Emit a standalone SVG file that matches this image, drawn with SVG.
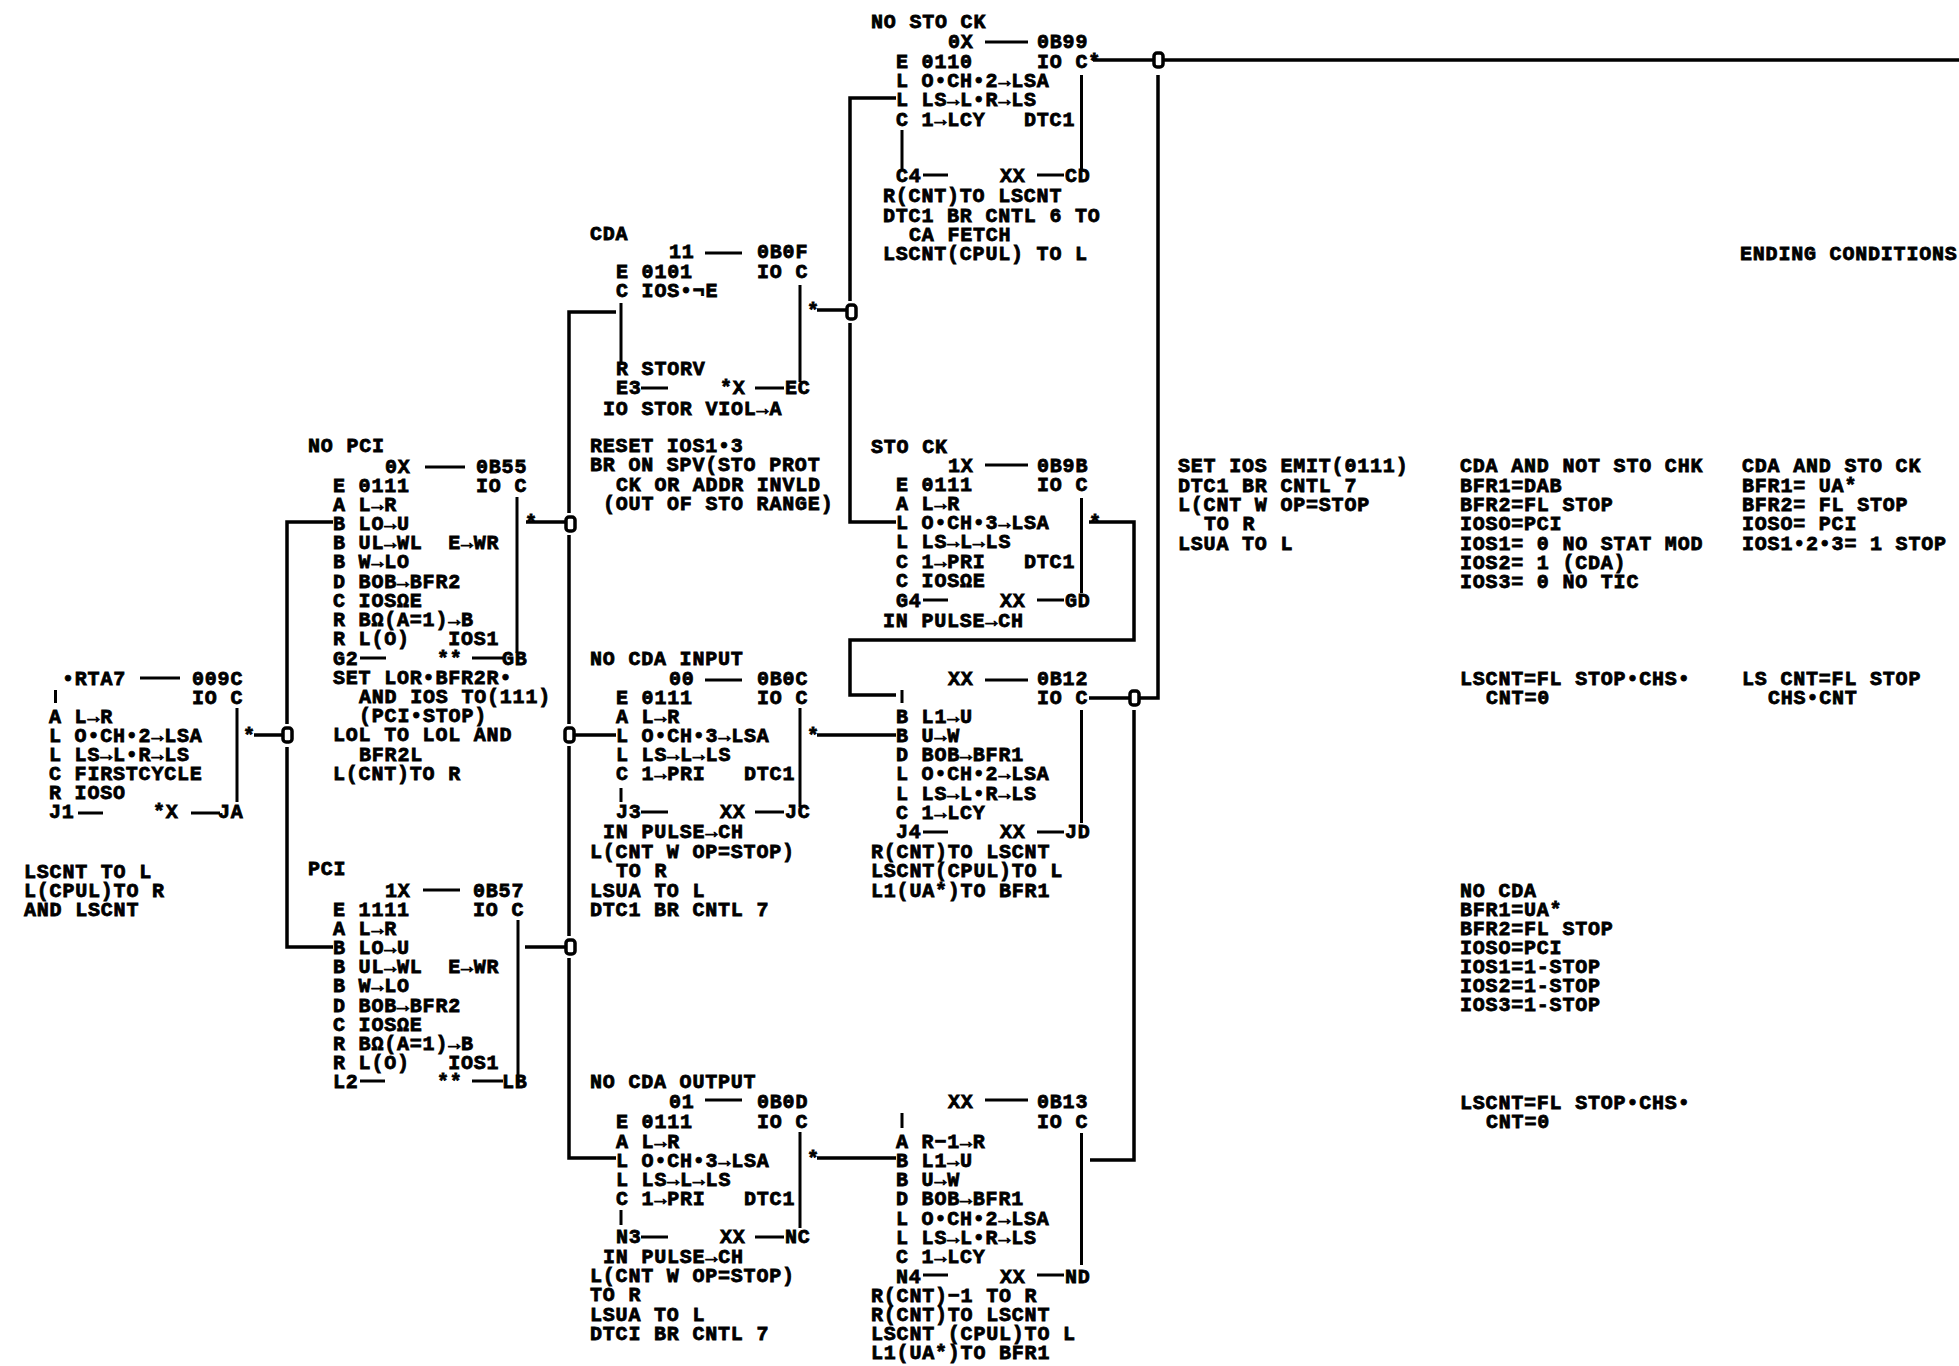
<svg xmlns="http://www.w3.org/2000/svg" width="1959" height="1366" viewBox="0 0 1959 1366">
<style>
text{font-family:"Liberation Mono","DejaVu Sans Mono",monospace;font-weight:700;font-size:20px;letter-spacing:.8px;fill:#000;stroke:#000;stroke-width:.8px;white-space:pre}
path{fill:none;stroke:#000;stroke-width:3px}
.c path{stroke-width:3.5px}
rect{fill:#fff;stroke:#000;stroke-width:3.5px}
</style>
<rect x="-5" y="-5" width="1969" height="1376" style="fill:#fff;stroke:none"/>
<g id="connectors" class="c">
<path d="M254 735H283M287 724V522H333M287 747V947H333M526 522H566M569 513V312H616M569 535V724M569 746V936M569 958V1158H616M574 735H616M525 947H566M817 310H846M850 301V98H896M850 323V522H896M817 735H896M817 1158H896M1093 60H1959M1158 75V698H1139M1089 698H1130M1089 522H1134V640H850V695H896M1134 710V1160H1090"/>
<rect x="283" y="728" width="9" height="14" rx="3"/>
<rect x="566" y="517" width="9" height="14" rx="3"/>
<rect x="565" y="728" width="9" height="14" rx="3"/>
<rect x="566" y="940" width="9" height="14" rx="3"/>
<rect x="847" y="305" width="9" height="14" rx="3"/>
<rect x="1154" y="53" width="9" height="14" rx="3"/>
<rect x="1130" y="691" width="9" height="14" rx="3"/>
</g>
<g id="rta7">
<path d="M55.5 690V703M237 708V802M140 678H180M78 813H103M191 813H220"/>
<text x="62" y="685">•RTA7</text><text x="192" y="685">009C</text><text x="192" y="704">IO C</text>
<text x="49" y="723">A L→R</text><text x="49" y="742">L O•CH•2→LSA</text><text x="49" y="761">L LS→L•R→LS</text><text x="49" y="780">C FIRSTCYCLE</text><text x="49" y="799">R IOSO</text>
<text x="49" y="818">J1</text><text x="153" y="818">*X</text><text x="218" y="818">JA</text>
<text x="243" y="742">*</text>
</g>
<g id="note-lscnt">
<text x="24" y="878">LSCNT TO L</text><text x="24" y="897">L(CPUL)TO R</text><text x="24" y="916">AND LSCNT</text>
</g>
<g id="no-pci">
<path d="M517 497V653M425 467H465M360 658H386M472 658H503"/>
<text x="308" y="452">NO PCI</text><text x="385" y="473">0X</text><text x="476" y="473">0B55</text>
<text x="333" y="492">E 0111</text><text x="476" y="492">IO C</text>
<text x="333" y="511">A L→R</text><text x="333" y="530">B LO→U</text><text x="333" y="549">B UL→WL  E→WR</text><text x="333" y="568">B W→LO</text><text x="333" y="588">D BOB→BFR2</text><text x="333" y="607">C IOSΩE</text><text x="333" y="626">R BΩ(A=1)→B</text><text x="333" y="645">R L(O)   IOS1</text>
<text x="333" y="665">G2</text><text x="437" y="665">**</text><text x="502" y="665">GB</text>
<text x="333" y="684">SET LOR•BFR2R•</text><text x="359" y="703">AND IOS TO(111)</text><text x="359" y="722">(PCI•STOP)</text><text x="333" y="741">LOL TO LOL AND</text><text x="359" y="761">BFR2L</text><text x="333" y="780">L(CNT)TO R</text>
<text x="525" y="529">*</text>
</g>
<g id="pci">
<path d="M518 920V1085M423 890H460M360 1081H385M472 1081H503"/>
<text x="308" y="875">PCI</text><text x="385" y="897">1X</text><text x="473" y="897">0B57</text>
<text x="333" y="916">E 1111</text><text x="473" y="916">IO C</text>
<text x="333" y="935">A L→R</text><text x="333" y="954">B LO→U</text><text x="333" y="973">B UL→WL  E→WR</text><text x="333" y="992">B W→LO</text><text x="333" y="1012">D BOB→BFR2</text><text x="333" y="1031">C IOSΩE</text><text x="333" y="1050">R BΩ(A=1)→B</text><text x="333" y="1069">R L(O)   IOS1</text>
<text x="333" y="1088">L2</text><text x="437" y="1088">**</text><text x="502" y="1088">LB</text>
</g>
<g id="cda">
<path d="M621 303V365M800 285V382M705 253H742M641 388H668M755 388H784"/>
<text x="590" y="240">CDA</text><text x="669" y="258">11</text><text x="757" y="258">0B0F</text>
<text x="616" y="278">E 0101</text><text x="757" y="278">IO C</text><text x="616" y="297">C IOS•¬E</text>
<text x="616" y="375">R STORV</text><text x="616" y="394">E3</text><text x="720" y="394">*X</text><text x="785" y="394">EC</text>
<text x="603" y="415">IO STOR VIOL→A</text>
<text x="807" y="317">*</text>
<text x="590" y="452">RESET IOS1•3</text><text x="590" y="471">BR ON SPV(STO PROT</text><text x="616" y="491">CK OR ADDR INVLD</text><text x="603" y="510">(OUT OF STO RANGE)</text>
</g>
<g id="no-cda-input">
<path d="M621 788V802M800 708V807M705 680H742M641 812H668M755 812H784"/>
<text x="590" y="665">NO CDA INPUT</text><text x="669" y="685">00</text><text x="757" y="685">0B0C</text>
<text x="616" y="704">E 0111</text><text x="757" y="704">IO C</text>
<text x="616" y="723">A L→R</text><text x="616" y="742">L O•CH•3→LSA</text><text x="616" y="761">L LS→L→LS</text><text x="616" y="780">C 1→PRI   DTC1</text>
<text x="616" y="818">J3</text><text x="720" y="818">XX</text><text x="785" y="818">JC</text>
<text x="603" y="838">IN PULSE→CH</text><text x="590" y="858">L(CNT W OP=STOP)</text><text x="616" y="877">TO R</text><text x="590" y="897">LSUA TO L</text><text x="590" y="916">DTC1 BR CNTL 7</text>
<text x="807" y="742">*</text>
</g>
<g id="no-cda-output">
<path d="M621 1210V1225M800 1132V1228M705 1100H742M641 1237H668M755 1237H784"/>
<text x="590" y="1088">NO CDA OUTPUT</text><text x="669" y="1108">01</text><text x="757" y="1108">0B0D</text>
<text x="616" y="1128">E 0111</text><text x="757" y="1128">IO C</text>
<text x="616" y="1148">A L→R</text><text x="616" y="1167">L O•CH•3→LSA</text><text x="616" y="1186">L LS→L→LS</text><text x="616" y="1205">C 1→PRI   DTC1</text>
<text x="616" y="1243">N3</text><text x="720" y="1243">XX</text><text x="785" y="1243">NC</text>
<text x="603" y="1263">IN PULSE→CH</text><text x="590" y="1282">L(CNT W OP=STOP)</text><text x="590" y="1301">TO R</text><text x="590" y="1321">LSUA TO L</text><text x="590" y="1340">DTCI BR CNTL 7</text>
<text x="807" y="1165">*</text>
</g>
<g id="no-sto-ck">
<path d="M902 130V170M1081.5 75V170M985 42H1028M923 175H948M1037 175H1064"/>
<text x="871" y="28">NO STO CK</text><text x="948" y="48">0X</text><text x="1037" y="48">0B99</text>
<text x="896" y="68">E 0110</text><text x="1037" y="68">IO C*</text>
<text x="896" y="87">L O•CH•2→LSA</text><text x="896" y="106">L LS→L•R→LS</text><text x="896" y="126">C 1→LCY   DTC1</text>
<text x="896" y="182">C4</text><text x="1000" y="182">XX</text><text x="1065" y="182">CD</text>
<text x="883" y="202">R(CNT)TO LSCNT</text><text x="883" y="222">DTC1 BR CNTL 6 TO</text><text x="909" y="241">CA FETCH</text><text x="883" y="260">LSCNT(CPUL) TO L</text>
</g>
<g id="sto-ck">
<path d="M1081.5 498V593M985 465H1028M923 600H948M1037 600H1064"/>
<text x="871" y="453">STO CK</text><text x="948" y="472">1X</text><text x="1037" y="472">0B9B</text>
<text x="896" y="491">E 0111</text><text x="1037" y="491">IO C</text>
<text x="896" y="510">A L→R</text><text x="896" y="529">L O•CH•3→LSA</text><text x="896" y="548">L LS→L→LS</text><text x="896" y="568">C 1→PRI   DTC1</text><text x="896" y="587">C IOSΩE</text>
<text x="896" y="607">G4</text><text x="1000" y="607">XX</text><text x="1065" y="607">GD</text>
<text x="883" y="627">IN PULSE→CH</text>
<text x="1089" y="529">*</text>
</g>
<g id="ob12">
<path d="M902 690V703M1081.5 710V823M985 680H1028M923 832H948M1037 832H1064"/>
<text x="948" y="685">XX</text><text x="1037" y="685">0B12</text><text x="1037" y="704">IO C</text>
<text x="896" y="723">B L1→U</text><text x="896" y="742">B U→W</text><text x="896" y="761">D BOB→BFR1</text><text x="896" y="780">L O•CH•2→LSA</text><text x="896" y="800">L LS→L•R→LS</text><text x="896" y="819">C 1→LCY</text>
<text x="896" y="838">J4</text><text x="1000" y="838">XX</text><text x="1065" y="838">JD</text>
<text x="871" y="858">R(CNT)TO LSCNT</text><text x="871" y="877">LSCNT(CPUL)TO L</text><text x="871" y="897">L1(UA*)TO BFR1</text>
</g>
<g id="ob13">
<path d="M902 1113V1128M1081.5 1133V1265M985 1100H1028M923 1275H948M1037 1275H1064"/>
<text x="948" y="1108">XX</text><text x="1037" y="1108">0B13</text><text x="1037" y="1128">IO C</text>
<text x="896" y="1148">A R−1→R</text><text x="896" y="1167">B L1→U</text><text x="896" y="1186">B U→W</text><text x="896" y="1205">D BOB→BFR1</text><text x="896" y="1225">L O•CH•2→LSA</text><text x="896" y="1244">L LS→L•R→LS</text><text x="896" y="1263">C 1→LCY</text>
<text x="896" y="1283">N4</text><text x="1000" y="1283">XX</text><text x="1065" y="1283">ND</text>
<text x="871" y="1302">R(CNT)−1 TO R</text><text x="871" y="1321">R(CNT)TO LSCNT</text><text x="871" y="1340">LSCNT (CPUL)TO L</text><text x="871" y="1359">L1(UA*)TO BFR1</text>
</g>
<g id="set-ios">
<text x="1178" y="472">SET IOS EMIT(0111)</text><text x="1178" y="492">DTC1 BR CNTL 7</text><text x="1178" y="511">L(CNT W OP=STOP</text><text x="1204" y="530">TO R</text><text x="1178" y="550">LSUA TO L</text>
</g>
<g id="ending-conditions">
<text x="1740" y="260">ENDING CONDITIONS</text>
</g>
<g id="cda-not-sto">
<text x="1460" y="472">CDA AND NOT STO CHK</text><text x="1460" y="492">BFR1=DAB</text><text x="1460" y="511">BFR2=FL STOP</text><text x="1460" y="530">IOSO=PCI</text><text x="1460" y="550">IOS1= 0 NO STAT MOD</text><text x="1460" y="569">IOS2= 1 (CDA)</text><text x="1460" y="588">IOS3= 0 NO TIC</text>
<text x="1460" y="685">LSCNT=FL STOP•CHS•</text><text x="1486" y="704">CNT=0</text>
</g>
<g id="cda-sto">
<text x="1742" y="472">CDA AND STO CK</text><text x="1742" y="492">BFR1= UA*</text><text x="1742" y="511">BFR2= FL STOP</text><text x="1742" y="530">IOSO= PCI</text><text x="1742" y="550">IOS1•2•3= 1 STOP</text>
<text x="1742" y="685">LS CNT=FL STOP</text><text x="1768" y="704">CHS•CNT</text>
</g>
<g id="no-cda">
<text x="1460" y="897">NO CDA</text><text x="1460" y="916">BFR1=UA*</text><text x="1460" y="935">BFR2=FL STOP</text><text x="1460" y="954">IOSO=PCI</text><text x="1460" y="973">IOS1=1-STOP</text><text x="1460" y="992">IOS2=1-STOP</text><text x="1460" y="1011">IOS3=1-STOP</text>
<text x="1460" y="1109">LSCNT=FL STOP•CHS•</text><text x="1486" y="1128">CNT=0</text>
</g>
</svg>
